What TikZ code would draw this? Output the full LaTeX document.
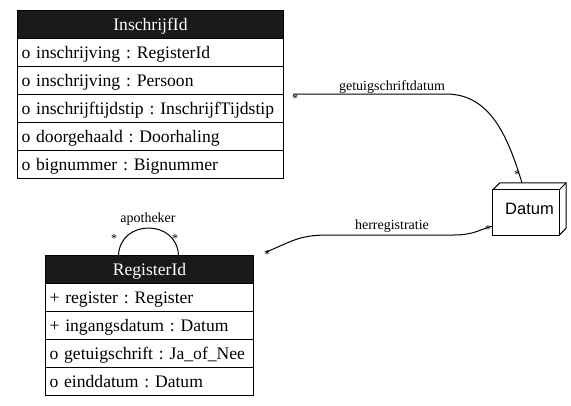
\documentclass[tikz,border=0pt]{standalone}
\usepackage{fontspec}
\setmainfont{Liberation Serif}
\newfontfamily\datumfont{Liberation Sans}
\usetikzlibrary{positioning,shapes,calc}
\frenchspacing

\begin{document}
\begin{tikzpicture}[x=1pt, y=-1pt,
    hdr/.style={draw=black, line width=1pt, fill=black!90, text=white,
        anchor=north west, minimum height=28pt, text width=#1,
        inner xsep=4pt, inner ysep=0pt, align=center,
        text height=15pt, text depth=3pt, font=\fontsize{17.6}{21}\selectfont},
    attr/.style={draw=black, line width=1pt, anchor=north west,
        minimum height=28pt, text width=#1, inner xsep=4pt, inner ysep=0pt,
        align=left, text height=15pt, text depth=3pt,
        font=\fontsize{17.6}{21}\selectfont},
    lbl/.style={font=\fontsize{14}{16}\selectfont, inner sep=0pt, anchor=base},
    mult/.style={font=\fontsize{12}{14}\selectfont, inner sep=0pt},
    assoc/.style={draw=black, line width=1pt}
]
\useasboundingbox[fill=white] (0,0) rectangle (571,405);

%% InschrijfId

\node[hdr=258pt]  (i0) at (17,10)  {InschrijfId};
\node[attr=258pt] (i1) at (17,38)  {o inschrijving : RegisterId};
\node[attr=258pt] (i2) at (17,66)  {o inschrijving : Persoon};
\node[attr=258pt] (i3) at (17,94)  {o inschrijftijdstip : InschrijfTijdstip};
\node[attr=258pt] (i4) at (17,122) {o doorgehaald : Doorhaling};
\node[attr=258pt] (i5) at (17,150) {o bignummer : Bignummer};

%% RegisterId

\node[hdr=200pt]  (r0) at (45,255) {RegisterId};
\node[attr=200pt] (r1) at (45,283) {+ register : Register};
\node[attr=200pt] (r2) at (45,311) {+ ingangsdatum : Datum};
\node[attr=200pt] (r3) at (45,339) {o getuigschrift : Ja\_of\_Nee};
\node[attr=200pt] (r4) at (45,367) {o einddatum : Datum};

%% Datum

\node[minimum width=73pt, minimum height=52pt, inner sep=0pt,
    font=\datumfont\fontsize{16.5}{19}\selectfont] (datum) at (529.5,209) {Datum};
\draw[line width=1pt] (datum.south west) rectangle ($(datum.north east)+(-7,7)$);
\draw[line width=1pt] ($(datum.north west)+(0,7)$) -- ($(datum.north west)+(7,0)$)
    -- (datum.north east) -- ($(datum.south east)+(0,-7)$)
    -- ($(datum.south east)+(-7,0)$);
\draw[line width=1pt] ($(datum.north east)+(-7,7)$) -- (datum.north east);

% getuigschriftdatum
\path[assoc] ([xshift=9pt]i3.north east) -- ++(153,0)
    .. controls +(45,0) and +(-14,-45) .. ([xshift=-7.5pt]datum.north);
\node[lbl] (l1) at (392,90) {getuigschriftdatum};
\node[mult] (m1) at (295,99) {*};
\node[mult] (m2) at (517,175) {*};

% herregistratie
\path[assoc] ([xshift=12pt,yshift=3pt]r0.north east)
    .. controls +(25,-10) and +(-30,0) .. ++(62,-17) -- ++(126,0)
    .. controls +(20,0) and +(-12,3) .. ([yshift=-17pt]datum.west);
\node[lbl] (l2) at (392,229) {herregistratie};
\node[mult] (m3) at (267,255) {*};
\node[mult] (m4) at (488,230) {*};

% apotheker
\path[assoc] ([xshift=-31pt]r0.north)
    .. controls +(2,-36) and +(-2,-36) .. ([xshift=29pt]r0.north);
\node[lbl] (l3) at (148,222) {apotheker};
\node[mult] (m5) at (114,239) {*};
\node[mult] (m6) at (175,239) {*};

\end{tikzpicture}
\end{document}
